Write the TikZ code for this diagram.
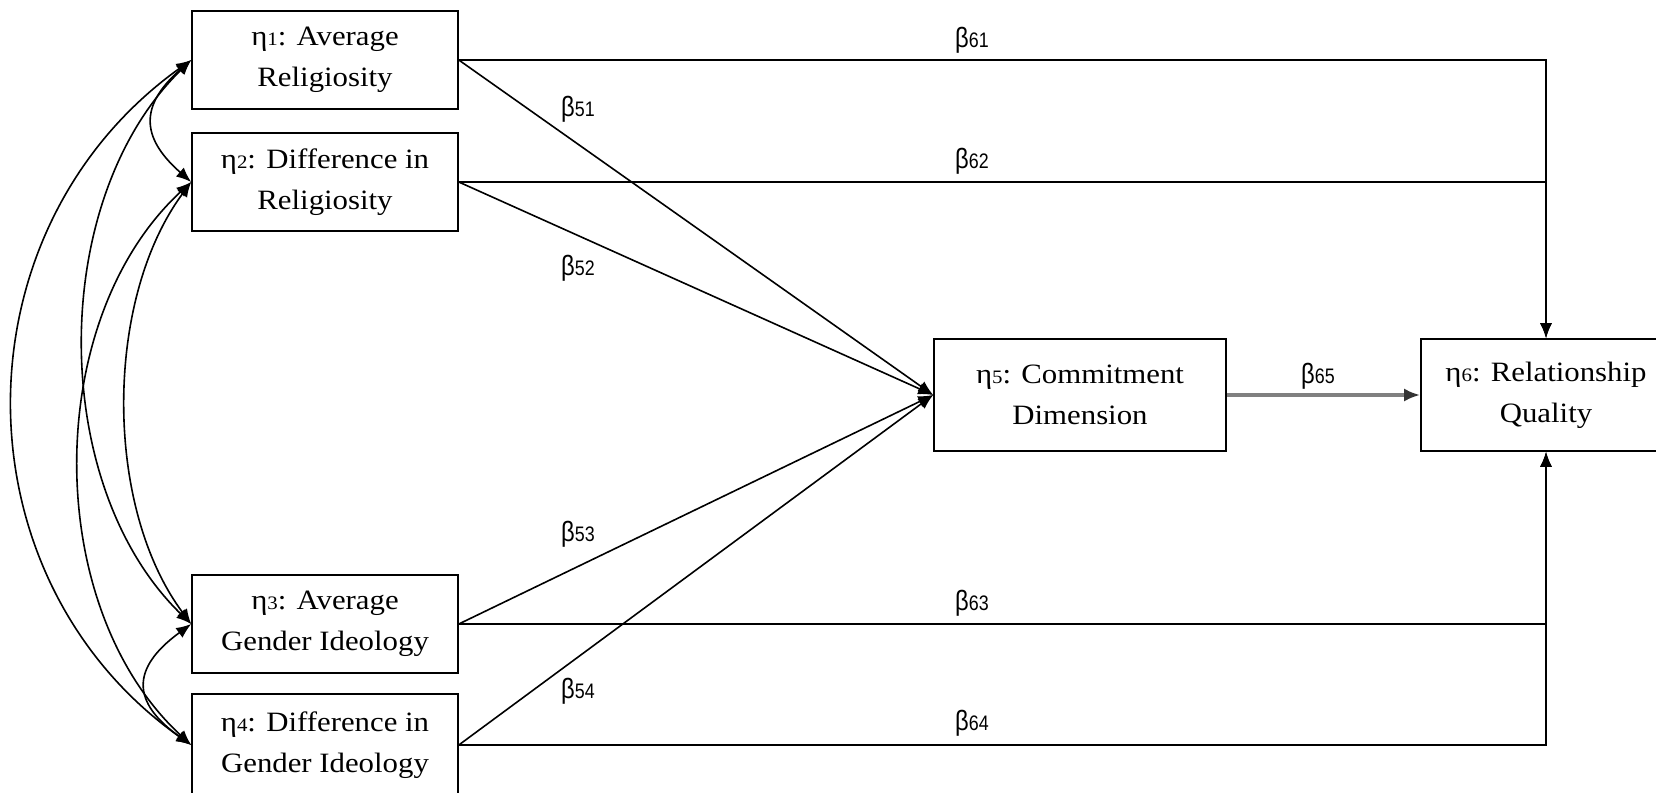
\documentclass[tikz,border=0pt]{standalone}
\usepackage{fontspec}
\setmainfont[FakeStretch=1.1]{Liberation Serif}
\newfontfamily\labfont[FakeStretch=0.85]{Liberation Sans}
\usetikzlibrary{arrows.meta}
\newcommand\esub[1]{{\fontsize{19}{19}\selectfont #1}}
\newcommand\blab[1]{{\labfont\fontsize{28}{28}\selectfont β{\fontsize{21}{21}\selectfont #1}}}
\begin{document}
\begin{tikzpicture}[x=1pt,y=-1pt, line width=1.6pt,
  box/.style={draw, line width=1.6pt, align=center, inner sep=0pt, font=\fontsize{28}{41}\selectfont},
  lbox/.style={box, minimum width=266pt, minimum height=98pt},
  cbox/.style={box, minimum width=292pt, minimum height=112pt},
  tip/.style={-{Latex[length=15pt,width=12pt]}},
  dtip/.style={{Latex[length=15pt,width=12pt]}-{Latex[length=15pt,width=12pt]}},
  grayline/.style={draw={rgb,255:red,128;green,128;blue,128}, line width=3.2pt},
  graytip/.style={-{Latex[length=16pt,width=13pt,color=black!80]}},
  lab/.style={anchor=base, inner sep=0pt}]
\useasboundingbox (0,0) rectangle (1656,792);
\fill[white] (0,0) rectangle (1656,792);

\node[lbox] (e1) at (325,60) {η\esub{1}: Average\\Religiosity};
\node[lbox] (e2) at (325,182) {η\esub{2}: Difference in\\Religiosity};
\node[lbox] (e3) at (325,624) {η\esub{3}: Average\\Gender Ideology};
\node[lbox, minimum height=102pt] (e4) at (325,745) {η\esub{4}: Difference in\\Gender Ideology};
\node[cbox] (e5) at (1080,395) {η\esub{5}: Commitment\\Dimension};
\node[box, minimum width=250pt, minimum height=112pt] (e6) at (1546,395) {η\esub{6}: Relationship\\Quality};

% paths to commitment
\draw[tip] (e1.east) -- (e5.west);
\draw[tip] (e2.east) -- (e5.west);
\draw[tip] (e3.east) -- (e5.west);
\draw[tip] (e4.east) -- (e5.west);

% paths to relationship quality
\draw[tip] (e1.east) -| (e6.north);
\draw[tip] (e2.east) -| (e6.north);
\draw[tip] (e3.east) -| (e6.south);
\draw[tip] (e4.east) -| (e6.south);
\draw[graytip, grayline] (e5.east) -- (e6.west);

% covariances
\draw[dtip] (e1.west) .. controls (140,105) and (140,137) .. (e2.west);
\draw[dtip] (e3.west) .. controls (131,668) and (131,702) .. (e4.west);
\draw[dtip] (e1.west) .. controls (-46,230) and (-46,577) .. (e4.west);
\draw[dtip] (e1.west) .. controls (48,200) and (48,485) .. (e3.west);
\draw[dtip] (e2.west) .. controls (42,320) and (42,607) .. (e4.west);
\draw[dtip] (e2.west) .. controls (104,300) and (104,507) .. (e3.west);

% labels
\node[lab] (b61) at (972,48) {\blab{61}};
\node[lab] (b62) at (972,168) {\blab{62}};
\node[lab] (b63) at (972,610) {\blab{63}};
\node[lab] (b64) at (972,730) {\blab{64}};
\node[lab] (b51) at (578,116) {\blab{51}};
\node[lab] (b52) at (578,275) {\blab{52}};
\node[lab] (b53) at (578,541) {\blab{53}};
\node[lab] (b54) at (578,698) {\blab{54}};
\node[lab] (b65) at (1318,383) {\blab{65}};
\end{tikzpicture}
\end{document}
